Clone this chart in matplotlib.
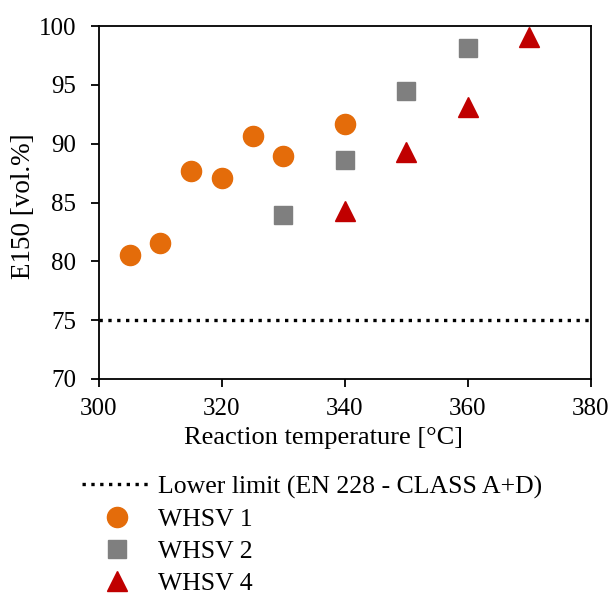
import matplotlib.pyplot as plt

plt.rcParams['font.family'] = ['Liberation Serif', 'DejaVu Serif']

# data
temp_w1 = [305, 310, 315, 320, 325, 330, 340]
e150_w1 = [80.5, 81.6, 87.7, 87.1, 90.7, 89.0, 91.7]
temp_w2 = [330, 340, 350, 360]
e150_w2 = [83.9, 88.6, 94.5, 98.1]
temp_w4 = [340, 350, 360, 370]
e150_w4 = [84.3, 89.3, 93.1, 99.1]
limit_x = [300, 380]
limit_y = [75, 75]

fig = plt.figure(figsize=(6.14, 5.94), dpi=100)
ax = fig.add_axes([0.161, 0.362, 0.801, 0.594])

ax.plot(limit_x, limit_y, color='black', linestyle=':', linewidth=2.4,
        label='Lower limit (EN 228 - CLASS A+D)')
ax.plot(temp_w1, e150_w1, 'o', color='#E46C0A', markersize=14.5, linestyle='none', label='WHSV 1')
ax.plot(temp_w2, e150_w2, 's', color='#7F7F7F', markersize=13.5, linestyle='none', label='WHSV 2')
ax.plot(temp_w4, e150_w4, '^', color='#C00000', markersize=14, linestyle='none', label='WHSV 4')

ax.set_xlim(300, 380)
ax.set_ylim(70, 100)
ax.set_xticks([300, 320, 340, 360, 380])
ax.set_yticks([70, 75, 80, 85, 90, 95, 100])
ax.tick_params(labelsize=18, direction='out', length=5.5, width=1.3)
ax.tick_params(axis='y', pad=11)
ax.tick_params(axis='x', pad=8)
for s in ax.spines.values():
    s.set_linewidth(1.3)
ax.set_xlabel('Reaction temperature [°C]', fontsize=19)
ax.xaxis.set_label_coords(0.457, -0.137)
ax.set_ylabel('E150 [vol.%]', fontsize=19.5)
ax.yaxis.set_label_coords(-0.128, 0.49)

fig.legend(loc='upper left', bbox_to_anchor=(0.1336, 0.2), frameon=False,
           fontsize=18.5, handlelength=2.7, handletextpad=0.25,
           labelspacing=0.36, borderaxespad=0, borderpad=0)

fig.savefig('out.png', dpi=100)
